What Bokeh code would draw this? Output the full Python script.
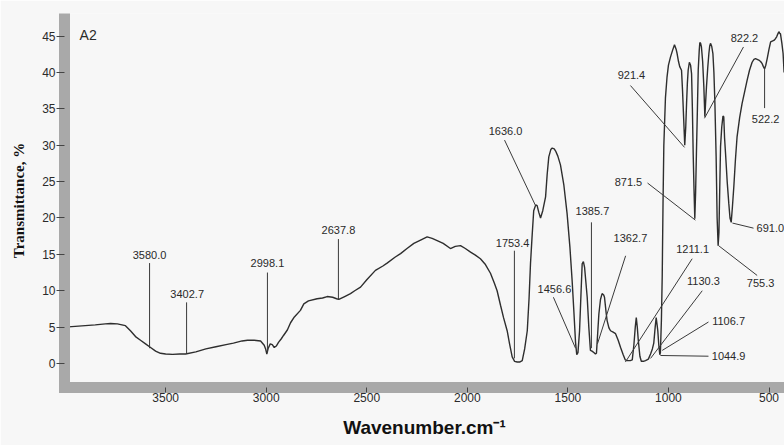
from bokeh.plotting import figure
from bokeh.models import Range1d, FixedTicker, Label, ColumnDataSource
from bokeh.core.properties import value
from bokeh.embed import file_html
from bokeh.resources import INLINE

# ---- spectrum (wavenumber cm^-1, transmittance %) ----
wavenumber = [4000, 3950, 3900, 3850, 3800, 3774, 3740, 3700, 3675, 3650, 3625, 3600, 3575, 3550, 3526,
              3500, 3466, 3430, 3401, 3350, 3300, 3250, 3200, 3163, 3120, 3093, 3060, 3028, 3010, 3003,
              2997, 2990, 2980, 2970, 2960, 2950, 2939, 2925, 2914, 2895, 2879, 2860, 2830, 2813, 2790,
              2747, 2720, 2697, 2670, 2650, 2639, 2610, 2581, 2560, 2531, 2500, 2457, 2420, 2399, 2360,
              2332, 2300, 2266, 2230, 2200, 2175, 2150, 2120, 2084, 2060, 2034, 2010, 1984, 1960, 1935,
              1910, 1885, 1865, 1852, 1835, 1820, 1802, 1790, 1777, 1765, 1752, 1740, 1727, 1715, 1702,
              1693, 1686, 1678, 1670, 1660, 1653, 1645, 1636, 1625, 1611, 1603, 1595, 1585, 1578, 1568,
              1561, 1550, 1537, 1520, 1504, 1490, 1479, 1470, 1462, 1456, 1450, 1442, 1435, 1429, 1423,
              1417, 1410, 1404, 1396, 1388, 1380, 1371, 1363, 1358, 1346, 1338, 1330, 1322, 1318, 1310,
              1305, 1296, 1288, 1275, 1263, 1250, 1238, 1225, 1215, 1205, 1190, 1180, 1172, 1165, 1160,
              1155, 1150, 1142, 1135, 1125, 1114, 1100, 1089, 1080, 1073, 1066, 1061, 1056, 1053, 1048,
              1043, 1040, 1035, 1031, 1027, 1023, 1015, 1007, 1000, 990, 980, 970, 962, 957, 950,
              944, 935, 930, 924, 919, 914, 910, 906, 902, 896, 890, 885, 881, 877, 873,
              869, 865, 861, 856, 852, 847, 844, 840, 836, 830, 824, 819, 815, 811, 805,
              799, 795, 791, 785, 779, 774, 769, 763, 758, 753, 749, 745, 741, 735, 729,
              725, 721, 716, 708, 700, 694, 688, 682, 675, 667, 659, 646, 634, 620, 609,
              597, 584, 575, 567, 559, 551, 542, 534, 528, 522, 516, 509, 500, 492, 484,
              476, 469, 462, 456, 451, 447, 443, 436, 430, 425]
transmittance = [5.0, 5.1, 5.2, 5.3, 5.45, 5.5, 5.45, 5.2, 4.5, 3.7, 3.2, 2.7, 2.2, 1.7, 1.4,
                 1.3, 1.25, 1.3, 1.3, 1.6, 2.0, 2.3, 2.6, 2.8, 3.1, 3.2, 3.2, 3.1, 2.5, 2.0,
                 1.3, 2.1, 2.7, 2.6, 2.2, 2.4, 2.9, 3.4, 3.85, 4.6, 5.6, 6.4, 7.3, 8.2, 8.6,
                 8.9, 9.0, 9.2, 9.1, 8.9, 8.8, 9.2, 9.6, 10.0, 10.5, 11.5, 12.8, 13.4, 13.8, 14.6,
                 15.1, 15.8, 16.5, 17.0, 17.4, 17.2, 16.9, 16.5, 15.8, 16.1, 16.2, 15.8, 15.3, 14.9, 14.4,
                 13.6, 12.4, 11.0, 10.0, 8.0, 6.3, 4.5, 2.7, 0.9, 0.3, 0.2, 0.2, 0.4, 2.0, 4.5,
                 9.0, 13.7, 17.5, 21.0, 21.8, 21.7, 20.8, 20.0, 21.0, 22.9, 26.0, 28.4, 29.4, 29.6, 29.5,
                 29.2, 28.5, 27.3, 24.5, 20.6, 16.0, 11.4, 7.0, 2.9, 1.2, 1.5, 4.5, 9.5, 13.7, 14.0,
                 13.2, 11.0, 9.1, 5.0, 1.8, 1.7, 1.5, 1.3, 1.4, 6.8, 8.8, 9.6, 9.4, 9.1, 7.0,
                 5.9, 4.9, 4.5, 4.3, 4.1, 3.2, 2.2, 1.2, 0.5, 0.4, 0.4, 0.5, 2.5, 5.0, 6.3,
                 5.0, 3.2, 1.0, 0.3, 0.3, 0.4, 0.6, 1.3, 2.0, 2.8, 5.0, 6.3, 5.2, 4.5, 2.5,
                 1.2, 1.5, 6.0, 12.0, 22.0, 30.0, 36.5, 39.4, 41.0, 42.1, 43.0, 43.8, 43.2, 42.6, 41.5,
                 40.8, 40.3, 37.5, 33.4, 30.0, 32.5, 35.7, 38.5, 40.3, 41.4, 41.0, 39.8, 35.0, 28.8, 24.0,
                 19.9, 23.5, 28.8, 35.0, 40.3, 43.0, 44.1, 44.0, 43.5, 41.5, 38.0, 33.9, 36.0, 38.0, 40.5,
                 42.6, 43.6, 44.0, 43.6, 42.6, 40.0, 35.7, 28.5, 20.0, 16.2, 18.0, 24.0, 29.8, 32.5, 34.0,
                 33.9, 31.0, 28.8, 25.0, 22.0, 20.0, 19.4, 21.5, 24.3, 28.0, 31.1, 33.8, 35.7, 37.5, 38.9,
                 40.3, 41.4, 41.8, 41.9, 41.8, 41.7, 41.5, 41.2, 40.8, 40.5, 41.0, 41.9, 43.2, 44.2, 44.3,
                 44.4, 44.6, 44.9, 45.3, 45.6, 45.4, 45.3, 44.0, 42.6, 40.0]

# ---- axis ticks ----
x_ticks = [3500, 3000, 2500, 2000, 1500, 1000, 500]
y_ticks = [0, 5, 10, 15, 20, 25, 30, 35, 40, 45]

# ---- peak annotations: text, text anchor, pointer line ----
peak_text = ["3580.0", "3402.7", "2998.1", "2637.8", "1753.4", "1636.0", "1456.6", "1385.7",
             "1362.7", "1211.1", "1130.3", "1106.7", "1044.9", "921.4", "871.5", "822.2",
             "755.3", "522.2"]
text_wn = [3580, 3393, 2994, 2641, 1775, 1810, 1567, 1378,
           1189, 880, 826, 701, 701, 1184, 1199, 622,
           542, 517]
text_t = [14.9, 9.6, 13.8, 18.3, 16.5, 31.9, 10.3, 20.9,
          17.3, 15.8, 11.4, 5.9, 1.0, 39.6, 24.9, 44.7,
          11.0, 33.6]
line_wn0 = [3580, 3396, 2994, 2641, 1766, 1815, 1572, 1383,
            1213, 882, 832, 801, 801, 1189, 1104, 627,
            751, 522]
line_t0 = [13.8, 8.4, 12.5, 17.1, 15.5, 30.7, 9.1, 19.4,
           14.8, 14.4, 10.0, 5.7, 1.0, 38.2, 24.8, 43.5,
           16.2, 40.7]
line_wn1 = [3580, 3396, 2994, 2641, 1766, 1661, 1462, 1383,
            1353, 1214, 1089, 1031, 1040, 920, 866, 821,
            559, 522]
line_t1 = [2.1, 1.4, 1.5, 8.8, 0.7, 21.7, 2.1, 2.1,
           2.7, 0.2, 0.7, 1.8, 1.1, 29.7, 19.7, 33.7,
           12.1, 35.1]
# label at the clipped right edge
edge_text = ["691.0"]
edge_wn = [562]
edge_t = [18.6]
edge_line_wn0 = [682]
edge_line_t0 = [19.3]
edge_line_wn1 = [577]
edge_line_t1 = [18.6]

FONT = "Liberation Sans"
INK = "#2a2a2a"
BAND = "#a9a9a9"
PAPER = "#f7f7f7"

p = figure(width=784, height=445, output_backend="svg", toolbar_location=None,
           x_range=Range1d(4003, 423), y_range=Range1d(-3.3, 48.1),
           min_border_left=64, min_border_right=0, min_border_top=13, min_border_bottom=58)
p.background_fill_color = PAPER
p.border_fill_color = PAPER
p.outline_line_color = None
p.grid.visible = False

# spectrum
p.line(wavenumber, transmittance, line_color="#2e2e2e", line_width=1.4)

# annotations
src = ColumnDataSource(dict(t=peak_text, x=text_wn, y=text_t,
                            x0=line_wn0, y0=line_t0, x1=line_wn1, y1=line_t1))
p.segment(x0="x0", y0="y0", x1="x1", y1="y1", source=src, line_color="#3a3a3a", line_width=1)
p.text(x="x", y="y", text="t", source=src, text_font=value(FONT), text_font_size="11px",
       text_align="center", text_baseline="middle", text_color=INK)
esrc = ColumnDataSource(dict(t=edge_text, x=edge_wn, y=edge_t,
                             x0=edge_line_wn0, y0=edge_line_t0, x1=edge_line_wn1, y1=edge_line_t1))
p.segment(x0="x0", y0="y0", x1="x1", y1="y1", source=esrc, line_color="#3a3a3a", line_width=1)
p.text(x="x", y="y", text="t", source=esrc, text_font=value(FONT), text_font_size="11px",
       text_align="left", text_baseline="middle", text_color=INK)

p.add_layout(Label(x=3928, y=45.1, text="A2", text_font=FONT, text_font_size="14px",
                   text_baseline="middle", text_align="left", text_color=INK))

# axes
p.xaxis.ticker = FixedTicker(ticks=x_ticks)
p.yaxis.ticker = FixedTicker(ticks=y_ticks)
for ax in (p.xaxis[0], p.yaxis[0]):
    ax.axis_line_color = BAND
    ax.axis_line_width = 11
    ax.major_tick_line_color = "#444444"
    ax.major_tick_in = 0
    ax.minor_tick_line_color = None
    ax.major_label_text_font = FONT
    ax.major_label_text_font_size = "12px"
    ax.major_label_text_color = INK
    ax.axis_label_text_color = "#111111"
    ax.axis_label_text_font_style = "bold"
p.xaxis.axis_line_cap = "square"
p.yaxis.axis_line_cap = "butt"
p.xaxis.major_tick_out = 5
p.xaxis.major_label_standoff = 0
p.yaxis.major_tick_out = 8
p.yaxis.major_label_standoff = 1

p.xaxis.axis_label = "Wavenumber.cm\u207b\u00b9"
p.xaxis.axis_label_text_font = FONT
p.xaxis.axis_label_text_font_size = "19px"
p.xaxis.axis_label_standoff = 12

p.yaxis.axis_label = "Transmittance, %"
p.yaxis.axis_label_text_font = "Liberation Serif"
p.yaxis.axis_label_text_font_size = "15px"
p.yaxis.axis_label_standoff = 12

open("out.html", "w").write(file_html(p, INLINE))
